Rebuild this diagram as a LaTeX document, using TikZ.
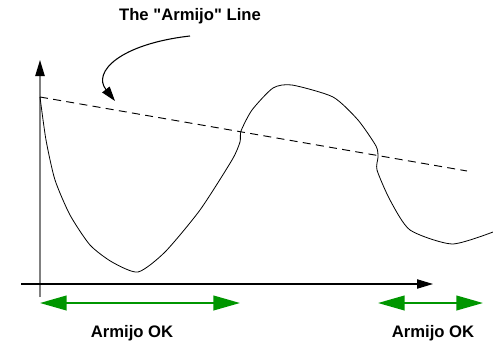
\documentclass[tikz,border=0pt]{standalone}
\usepackage{fontspec}
\setmainfont{Liberation Sans}
\usepackage{tikz}
\usepackage{xcolor}
\usetikzlibrary{arrows.meta, positioning}
\definecolor{cOkGreen}{RGB}{0,150,0}
\definecolor{cAxisGray}{RGB}{128,128,128}
\tikzset{
	axis/.style     ={line width=0.8pt, -{Triangle[length=12pt, width=7pt]}},
	fcurve/.style   ={line width=0.6pt, black},
	armline/.style  ={line width=0.7pt, dash pattern=on 6pt off 4pt},
	pointer/.style  ={line width=0.8pt, -{Triangle[length=11pt, width=7pt]}},
	okrange/.style  ={line width=1.5pt, cOkGreen, {Triangle[length=20pt, width=11pt]}-{Triangle[length=20pt, width=11pt]}},
	lbl/.style      ={font=\fontsize{12.5}{14}\selectfont\bfseries, inner sep=0pt},
}
\begin{document}
\begin{tikzpicture}[x=0.75pt, y=-0.75pt]
	\useasboundingbox (0,0) rectangle (493,343);
	% axes
	\coordinate (o)  at (40,297);
	\coordinate (yt) at (40,60);
	\coordinate (xl) at (21,284);
	\coordinate (xt) at (433,284);
	\draw[axis, line width=1pt, cAxisGray, -{Triangle[length=12pt, width=7pt, fill=black, color=black]}] (o) -- (yt);
	\draw[axis] (xl) -- (xt);
	% function
	\draw[fcurve] plot[smooth, tension=0.4] coordinates {
		(40,97) (46,140) (55,180) (70,215) (90,245) (112,262) (138,272)
		(165,252) (200,210) (232,160) (240,142) (241,131) (252,110) (273,88)
		(292,85) (333,97) (358,120) (376,146) (378,157) (377,170) (390,200)
		(410,230) (452,244) (493,232)};
	% the Armijo line
	\coordinate (a0) at (40,97);
	\coordinate (a1) at (467,171);
	\draw[armline] (a0) -- (a1);
	\node[lbl] (title) at (190,16) {The \textquotedbl Armijo\textquotedbl\ Line};
	\coordinate (tip) at (115,101);
	\draw[pointer] (190,36) .. controls (120,44) and (92,72) .. (tip);
	% acceptable steps
	\coordinate (l0) at (40,303);  \coordinate (l1) at (240,303);
	\coordinate (r0) at (378,303); \coordinate (r1) at (483,303);
	\draw[okrange] (l0) -- (l1);
	\draw[okrange] (r0) -- (r1);
	\node[lbl] (okl) at (132,333) {Armijo OK};
	\node[lbl] (okr) at (433,333) {Armijo OK};
\end{tikzpicture}
\end{document}
